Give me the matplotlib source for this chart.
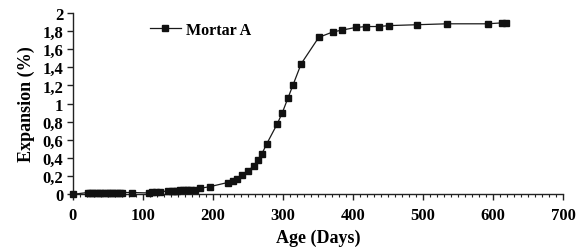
import matplotlib
matplotlib.use("Agg")
import matplotlib.pyplot as plt
from matplotlib.ticker import MultipleLocator, FuncFormatter

# -------------------------
# Data
# -------------------------

age_days = [
    0, 21, 25, 28, 32, 35, 39, 42, 46,
    50, 53, 56, 60, 63, 67, 70, 84,
    108, 113, 119, 124, 136, 141, 145, 149, 153, 157, 161, 165, 169, 174,
    181, 196, 221, 228, 235, 242, 250, 258, 264, 270, 277,
    292, 299, 307, 314, 326, 351, 371, 384, 404, 419, 437, 451,
    492, 534, 592, 612, 618,
]

expansion = [
    0.00, 0.02, 0.02, 0.02, 0.02, 0.02, 0.02, 0.02, 0.015,
    0.01, 0.01, 0.01, 0.01, 0.01, 0.015, 0.02, 0.02,
    0.015, 0.025, 0.025, 0.03, 0.035, 0.035, 0.04, 0.04, 0.045, 0.045, 0.05, 0.05, 0.05, 0.05,
    0.065, 0.085, 0.13, 0.15, 0.17, 0.21, 0.26, 0.31, 0.38, 0.45, 0.56,
    0.78, 0.90, 1.06, 1.20, 1.44, 1.73, 1.79, 1.81, 1.84, 1.85, 1.85, 1.86,
    1.87, 1.88, 1.88, 1.89, 1.89,
]

series_name = "Mortar A"

plt.rcParams["font.family"] = ["Liberation Serif", "DejaVu Serif"]
plt.rcParams["font.weight"] = "bold"

fig = plt.figure(figsize=(5.83, 2.53), dpi=100)
ax = fig.add_axes([0.125, 0.228, 0.841, 0.717])

ax.plot(
    age_days, expansion,
    color="#1a1a1a", linewidth=0.9,
    marker="s", markersize=5,
    markerfacecolor="#111111", markeredgecolor="#111111",
    label=series_name, clip_on=False, zorder=3
)

ax.set_xlim(0, 700)
ax.set_ylim(0, 2)

ax.xaxis.set_major_locator(MultipleLocator(100))
ax.xaxis.set_minor_locator(MultipleLocator(10))
ax.yaxis.set_major_locator(MultipleLocator(0.2))

ax.yaxis.set_major_formatter(
    FuncFormatter(lambda v, p: ("%g" % round(v, 1)).replace(".", ","))
)

ax.spines["top"].set_visible(False)
ax.spines["right"].set_visible(False)
for s in ("left", "bottom"):
    ax.spines[s].set_linewidth(1.0)
    ax.spines[s].set_color("#222222")

ax.tick_params(axis="both", which="major", direction="out", length=4,
               width=1.0, labelsize=12, colors="#222222", labelcolor="black")
ax.tick_params(axis="x", which="minor", direction="out", length=2.5,
               width=0.8, colors="#222222")
ax.tick_params(axis="x", pad=5)
ax.tick_params(axis="y", pad=3)

for lbl in ax.get_xticklabels() + ax.get_yticklabels():
    lbl.set_fontweight("bold")

ax.set_xlabel("Age (Days)", fontsize=13, fontweight="bold", labelpad=4)
ax.set_ylabel("Expansion (%)", fontsize=13, fontweight="bold", labelpad=5)

ax.legend(
    loc="upper left", bbox_to_anchor=(0.127, 1.03),
    frameon=False, handlelength=2.0, handletextpad=0.3,
    prop={"weight": "bold", "size": 11.5}
)

fig.savefig("out.png", dpi=100)
